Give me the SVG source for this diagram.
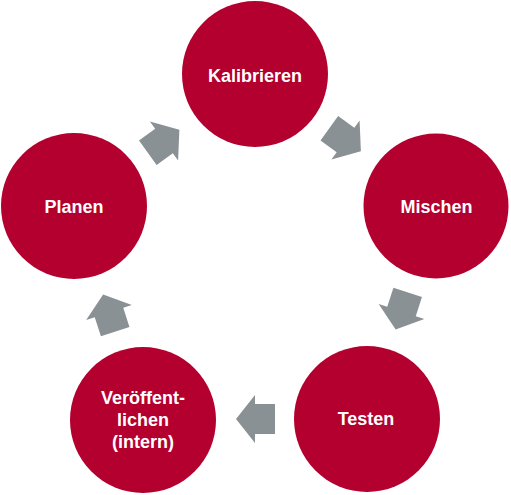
<svg xmlns="http://www.w3.org/2000/svg" width="511" height="495" viewBox="0 0 511 495">
  <defs>
    <style>
      .node { fill: #b4002f; }
      .lbl { fill: #ffffff; font-family: "Liberation Sans", Arial, sans-serif; font-weight: bold; font-size: 18px; text-anchor: middle; }
      .arr { fill: #8a9195; }
    </style>
    <polygon id="blockArrow" class="arr" points="-20,-15 0,-15 0,-24 19,0 0,24 0,15 -20,15"/>
  </defs>
  <rect width="511" height="495" fill="#ffffff"/>
  <g id="connectors">
    <use href="#blockArrow" transform="translate(164,141) rotate(-36)"/>
    <use href="#blockArrow" transform="translate(345.5,140) rotate(36)"/>
    <use href="#blockArrow" transform="translate(401.5,311.5) rotate(108)"/>
    <use href="#blockArrow" transform="translate(255,419) rotate(180)"/>
    <use href="#blockArrow" transform="translate(109,312.5) rotate(252)"/>
  </g>
  <g id="kalibrieren">
    <circle class="node" cx="255" cy="74" r="73"/>
    <text class="lbl" x="255" y="82">Kalibrieren</text>
  </g>
  <g id="mischen">
    <circle class="node" cx="436" cy="206" r="72.5"/>
    <text class="lbl" x="436.5" y="213">Mischen</text>
  </g>
  <g id="testen">
    <circle class="node" cx="367" cy="419" r="73"/>
    <text class="lbl" x="366" y="425">Testen</text>
  </g>
  <g id="veroeffentlichen">
    <circle class="node" cx="143" cy="420" r="73"/>
    <text class="lbl" x="143" y="404">Veröffent-</text>
    <text class="lbl" x="143" y="426">lichen</text>
    <text class="lbl" x="143" y="448">(intern)</text>
  </g>
  <g id="planen">
    <circle class="node" cx="74" cy="206" r="73"/>
    <text class="lbl" x="74" y="213">Planen</text>
  </g>
</svg>
